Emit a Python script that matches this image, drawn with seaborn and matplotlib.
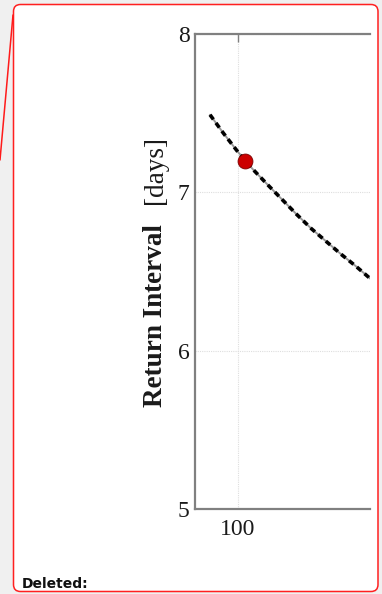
import matplotlib
matplotlib.use("Agg")
import matplotlib.pyplot as plt
import seaborn as sns
import pandas as pd
from matplotlib.patches import FancyBboxPatch
from matplotlib.lines import Line2D

# ---- data ----
size_x = [90.5, 95, 100, 105, 110, 115, 120, 125, 130, 135, 140, 145]
return_days = [7.49, 7.375, 7.255, 7.147, 7.05, 6.955, 6.86, 6.77, 6.69, 6.61, 6.535, 6.455]
point_x = [102.4]
point_y = [7.20]
y_ticks = [5, 6, 7, 8]
x_ticks = [100]
ylabel_bold = "Return Interval"
ylabel_unit = "[days]"
note_text = "Deleted:"

sns.set_style("white")
plt.rcParams['font.family'] = ['Liberation Serif', 'DejaVu Serif']

W, H = 382, 594
fig = plt.figure(figsize=(W / 100, H / 100), dpi=100)
fig.patch.set_facecolor("#f0f0f0")

# comment box
box = FancyBboxPatch((0.135, 0.025), 3.78 - 0.135, 5.895 - 0.025,
                     boxstyle="round,pad=0,rounding_size=0.07",
                     transform=fig.dpi_scale_trans, facecolor="white",
                     edgecolor="#ff2020", linewidth=1.1, zorder=-5)
fig.patches.append(box)
fig.lines.append(Line2D([13 / W, 0], [1 - 15 / H, 1 - 160 / H],
                        transform=fig.transFigure, color="#ff1a1a", lw=1.1))

ax = fig.add_axes([195 / W, 1 - 509 / H, 175 / W, 475 / H])
ax.set_zorder(3)
ax.set_facecolor("white")

line_df = pd.DataFrame({"x": size_x, "y": return_days})
sns.lineplot(data=line_df, x="x", y="y", ax=ax, color="#9a9a9a", lw=1.4, zorder=2)
sns.lineplot(data=line_df, x="x", y="y", ax=ax, color="black", lw=2.6,
             zorder=3)
ax.lines[-1].set_dashes([1.6, 1.2])
pt_df = pd.DataFrame({"x": point_x, "y": point_y})
sns.scatterplot(data=pt_df, x="x", y="y", ax=ax, color="#cc0000", s=115,
                edgecolor="#7a0000", linewidth=0.6, zorder=4)

ax.set_xlim(85.4, 144.9)
ax.set_ylim(5, 8)
ax.set_xticks(x_ticks)
ax.set_yticks(y_ticks)
ax.set_xticklabels([str(t) for t in x_ticks])
ax.set_yticklabels([str(t) for t in y_ticks])
ax.set_xlabel("")
ax.set_ylabel("")
ax.grid(True, color="#dedede", lw=0.8, ls=(0, (1, 1)))
ax.tick_params(axis="both", direction="in", length=6, width=1, color="#808080",
               labelsize=17, labelcolor="#1a1a1a", top=True, right=False)
ax.tick_params(axis="x", pad=7)
ax.tick_params(axis="y", pad=4)
for s in ["left", "bottom", "top"]:
    ax.spines[s].set_visible(True)
    ax.spines[s].set_color("#808080")
    ax.spines[s].set_linewidth(1.6)
ax.spines["right"].set_visible(False)

fig.text(155 / W, 1 - 407 / H, ylabel_bold, rotation=90, fontsize=19.5,
         fontweight="bold", ha="center", va="bottom", color="#1a1a1a")
fig.text(155 / W, 1 - 136 / H, ylabel_unit, rotation=90, fontsize=19.5,
         ha="center", va="top", color="#1a1a1a")

fig.text(22 / W, 1 - 588 / H, note_text, fontsize=10, fontweight="bold",
         family=["DejaVu Sans"], ha="left", va="baseline", color="#111111")

fig.savefig("out.png", dpi=100, facecolor=fig.get_facecolor())
